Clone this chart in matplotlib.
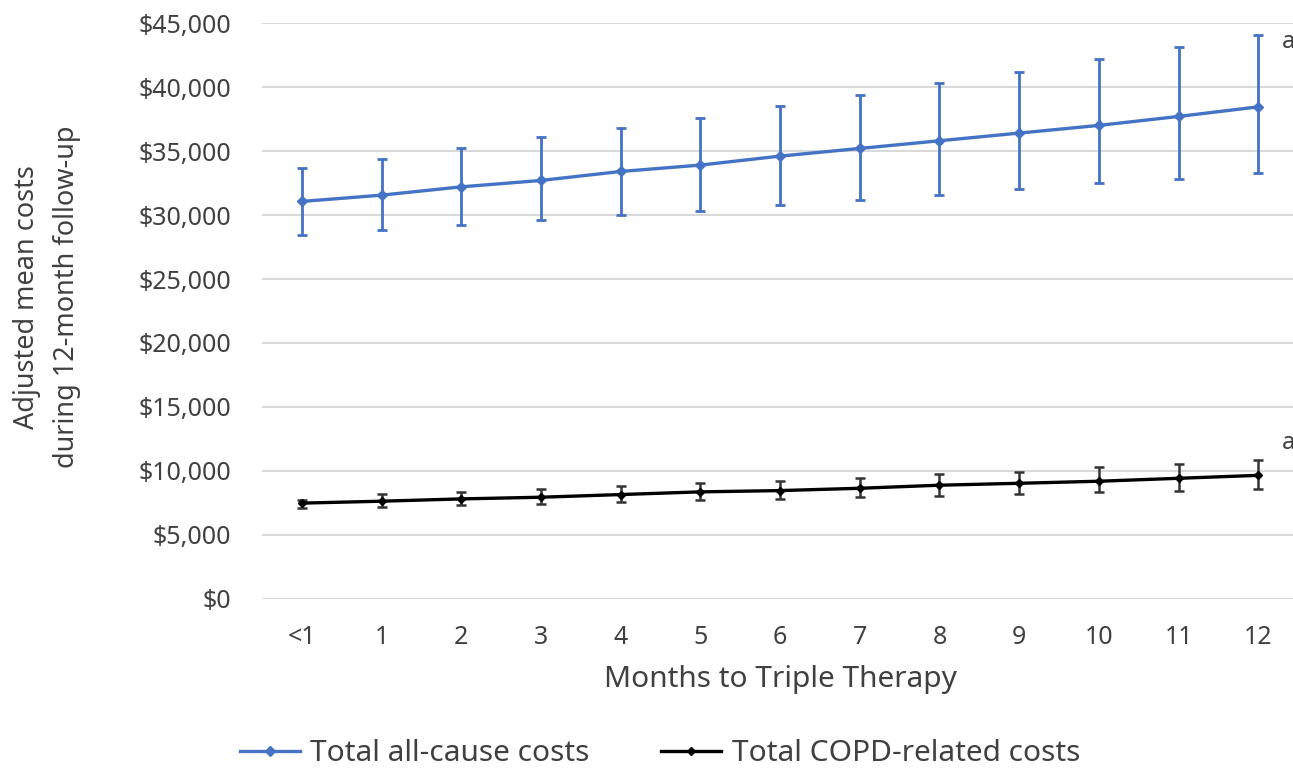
import matplotlib
matplotlib.use("Agg")
import matplotlib.pyplot as plt
from matplotlib.ticker import FuncFormatter
from matplotlib.lines import Line2D

categories = ["<1", "1", "2", "3", "4", "5", "6", "7", "8", "9", "10", "11", "12"]

all_cause = [31060, 31550, 32200, 32700, 33400, 33900, 34600, 35200, 35800, 36400, 37000, 37700, 38450]
all_cause_hi = [33700, 34400, 35200, 36100, 36800, 37600, 38500, 39400, 40300, 41200, 42200, 43100, 44100]
all_cause_lo = [28400, 28850, 29200, 29600, 30000, 30300, 30750, 31200, 31600, 32000, 32500, 32850, 33300]

copd = [7490, 7640, 7820, 7950, 8160, 8370, 8470, 8650, 8890, 9040, 9200, 9430, 9660]
copd_hi = [7750, 8190, 8390, 8630, 8810, 9040, 9250, 9460, 9790, 9950, 10280, 10520, 10830]
copd_lo = [7100, 7180, 7310, 7410, 7540, 7720, 7820, 7930, 8030, 8190, 8370, 8470, 8580]

yticks = list(range(0, 45001, 5000))
series_names = ["Total all-cause costs", "Total COPD-related costs"]

plt.rcParams['font.family'] = ['Noto Sans', 'DejaVu Sans']
text_color = "#404040"

fig = plt.figure(figsize=(12.93, 7.72), dpi=100)
ax = fig.add_axes([0.2026, 0.2241, 0.8014, 0.7461])

x = list(range(len(categories)))

err_all = [[m - l for m, l in zip(all_cause, all_cause_lo)],
           [h - m for m, h in zip(all_cause, all_cause_hi)]]
err_copd = [[m - l for m, l in zip(copd, copd_lo)],
            [h - m for m, h in zip(copd, copd_hi)]]

blue = "#4472C4"
ax.errorbar(x, all_cause, yerr=err_all, color=blue, lw=2.4, marker="D", ms=5.5,
            capsize=3.5, capthick=2, elinewidth=2, zorder=3)
ax.errorbar(x, copd, yerr=err_copd, color="black", lw=2.4, marker="D", ms=4.5,
            ecolor="#333333", capsize=3.5, capthick=1.8, elinewidth=1.8, zorder=3)

ax.text(12.3, 43500, "a", fontsize=17, color=text_color, ha="left", va="center", clip_on=False)
ax.text(12.3, 12200, "a", fontsize=17, color=text_color, ha="left", va="center", clip_on=False)

ax.set_xlim(-0.5, len(categories) - 0.5)
ax.set_ylim(0, 45000)
ax.set_yticks(yticks)
ax.yaxis.set_major_formatter(FuncFormatter(lambda v, p: "${:,.0f}".format(v)))
ax.set_xticks(x)
ax.set_xticklabels(categories)
ax.grid(axis="y", color="#d9d9d9", lw=1.5)
ax.set_axisbelow(True)
for s in ax.spines.values():
    s.set_visible(False)
ax.tick_params(axis="both", length=0, labelsize=18, colors=text_color)
ax.tick_params(axis="y", pad=22)
ax.tick_params(axis="x", pad=18.5)

ax.set_xlabel("Months to Triple Therapy", fontsize=21.5, color=text_color, labelpad=11)
fig.text(0.0364, 0.615, "Adjusted mean costs\nduring 12-month follow-up", rotation=90,
         ha="center", va="center", fontsize=19.5, color=text_color, linespacing=1.6)

handles = [Line2D([], [], color=blue, lw=2.4, marker="D", ms=5.5),
           Line2D([], [], color="black", lw=2.4, marker="D", ms=4.5)]
fig.legend(handles, series_names, loc="center", bbox_to_anchor=(0.5105, 0.024), ncol=2,
           frameon=False, fontsize=21.5, handlelength=2.0, handletextpad=0.35,
           columnspacing=2.4, labelcolor=text_color, borderpad=0.2)

fig.savefig("out.png", dpi=100)
